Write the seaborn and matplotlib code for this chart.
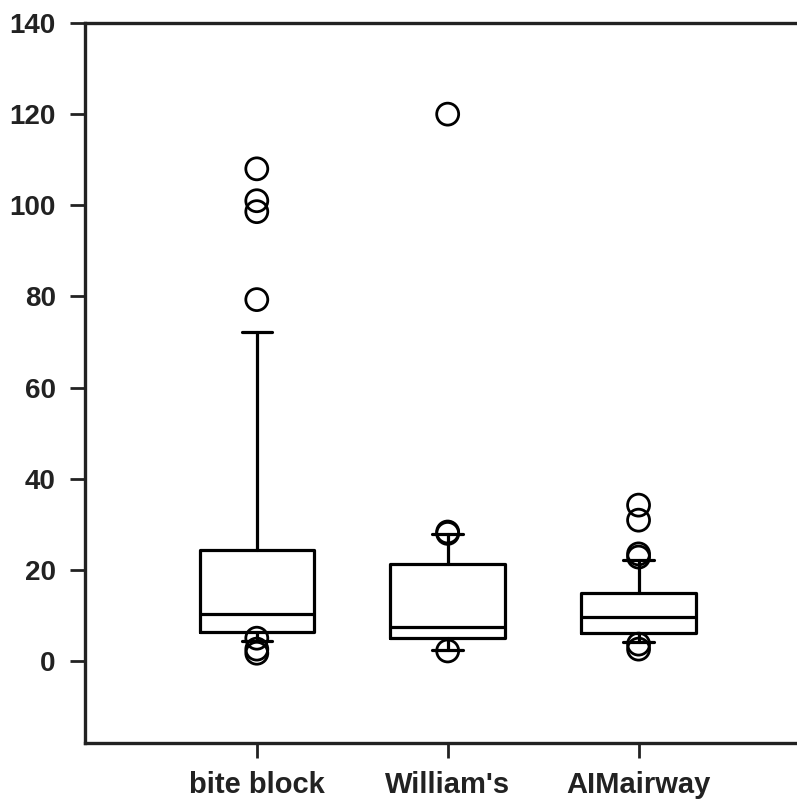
import matplotlib
matplotlib.use("Agg")
import matplotlib.pyplot as plt
import seaborn as sns
import pandas as pd

# Devices compared
groups = ["bite block", "William's", "AIMairway"]

# Box summary per device (whiskers at 10th / 90th percentile)
whisker_low = [4.4, 2.4, 4.2]
q1 = [6.4, 5.0, 6.1]
median = [10.3, 7.4, 9.6]
q3 = [24.3, 21.2, 14.9]
whisker_high = [72.3, 27.8, 22.1]

# Points outside the whiskers
outliers = {
    "bite block": [108.0, 101.0, 98.6, 79.3, 5.0, 2.6, 1.7],
    "William's": [120.0, 28.3, 28.0, 2.2],
    "AIMairway": [34.2, 30.9, 23.5, 22.8, 3.7, 2.6],
}

sns.set_theme(style="white")
plt.rcParams["font.family"] = ["Liberation Sans", "DejaVu Sans"]

fig = plt.figure(figsize=(7.97, 8.02), dpi=100)
ax = fig.add_axes([85 / 797, 1 - 743 / 802, 1 - 85 / 797, (743 - 23) / 802])

stats = []
for i, g in enumerate(groups):
    stats.append(dict(label=g, whislo=whisker_low[i], q1=q1[i], med=median[i],
                      q3=q3[i], whishi=whisker_high[i], fliers=[]))

lw = 2.3
ax.bxp(stats, positions=range(len(groups)), widths=0.6, showfliers=False,
       boxprops=dict(color="black", linewidth=lw),
       medianprops=dict(color="black", linewidth=lw),
       whiskerprops=dict(color="black", linewidth=lw),
       capprops=dict(color="black", linewidth=lw),
       capwidths=0.16, manage_ticks=False)

flier_df = pd.DataFrame(
    [(groups.index(g), v) for g in groups for v in outliers[g]],
    columns=["pos", "value"])
sns.scatterplot(data=flier_df, x="pos", y="value", ax=ax, s=250,
                facecolor="none", edgecolor="black", linewidth=2.0,
                marker="o", zorder=5)

ax.set_xlim(-0.9, 2.83)
ax.set_ylim(-18, 140)
ax.set_yticks(range(0, 141, 20))
ax.set_xticks(range(len(groups)))
ax.set_xticklabels(groups)
ax.set_xlabel("")
ax.set_ylabel("")

for side in ["left", "bottom", "top"]:
    ax.spines[side].set_visible(True)
    ax.spines[side].set_color("#222222")
    ax.spines[side].set_linewidth(2.4)
ax.spines["right"].set_visible(False)

ax.tick_params(axis="y", left=True, length=11, width=2.0, color="#222222",
               pad=10, labelsize=20, labelcolor="#222222")
ax.tick_params(axis="x", bottom=True, length=11, width=2.0, color="#222222",
               pad=9, labelsize=21, labelcolor="#222222")
for lab in ax.get_xticklabels() + ax.get_yticklabels():
    lab.set_fontweight("bold")

fig.savefig("out.png", dpi=100)
